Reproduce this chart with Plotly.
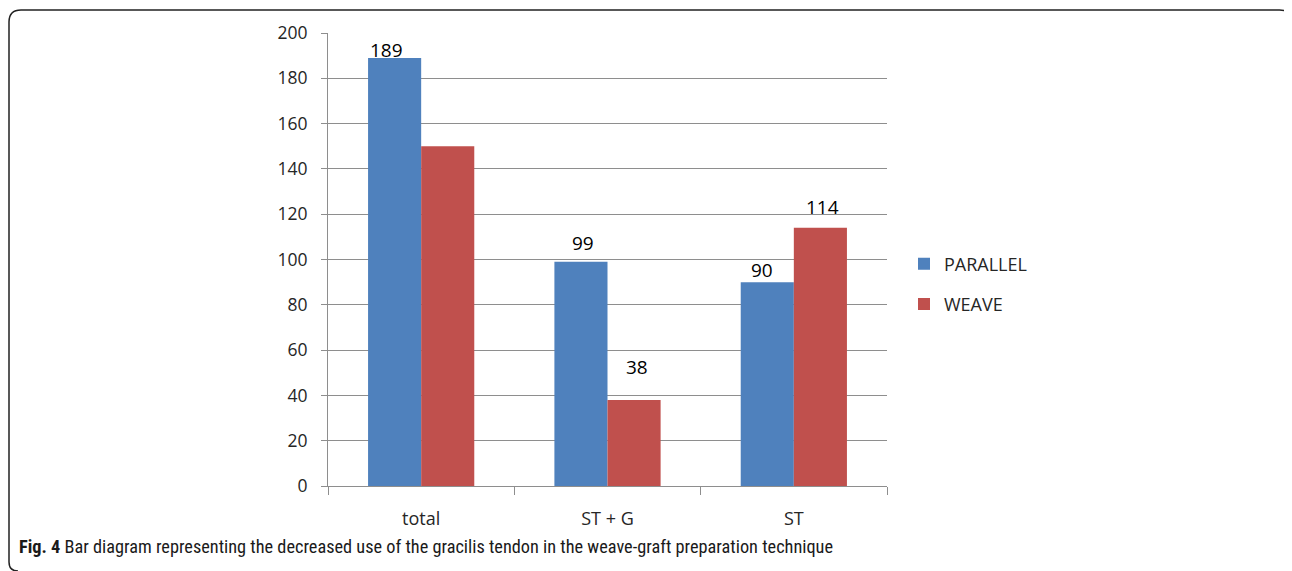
import plotly.graph_objects as go

categories = ["total", "ST + G", "ST"]
parallel = [189, 99, 90]
weave = [150, 38, 114]
parallel_labels = ["189", "99", "90"]
weave_labels = ["", "38", "114"]
y_ticks = [0, 20, 40, 60, 80, 100, 120, 140, 160, 180, 200]
caption_bold = "Fig. 4"
caption_text = " Bar diagram representing the decreased use of the gracilis tendon in the weave-graft preparation technique"

# page body has an 8px margin: work in screen pixels, convert to figure coords
OFF = 8
W, H = 1292 - OFF, 571 - OFF
SL, SR, ST_, SB = 328, 887, 33, 486          # plot area in screen px
L, R, T, B = SL - OFF, SR - OFF, ST_ - OFF, SB - OFF

def px(x):
    return (x - OFF - L) / (R - L)

def py(y):
    return (B - (y - OFF)) / (B - T)

BLUE = "#4F81BD"
RED = "#C0504D"
GRID = "#8E8E8E"
TXT = "#262626"
FONT = "Open Sans"

fig = go.Figure()
fig.add_trace(go.Bar(name="PARALLEL", x=categories, y=parallel, marker_color=BLUE,
                     marker_line_width=0, legendgroup="p"))
fig.add_trace(go.Bar(name="WEAVE", x=categories, y=weave, marker_color=RED,
                     marker_line_width=0, legendgroup="w"))

# value labels: (dx, dy) style offsets from each bar top centre, in px
p_shift = [(-8, 8), (2, 19), (-5, 12)]
w_shift = [(0, 0), (3, 33), (2, 21)]
half = 26.5
for i, c in enumerate(categories):
    if parallel_labels[i]:
        fig.add_annotation(x=c, y=parallel[i], text=parallel_labels[i], showarrow=False,
                           xshift=-half + p_shift[i][0], yshift=p_shift[i][1], yanchor="middle",
                           font=dict(family=FONT, size=19, color="#000"))
    if weave_labels[i]:
        fig.add_annotation(x=c, y=weave[i], text=weave_labels[i], showarrow=False,
                           xshift=half + w_shift[i][0], yshift=w_shift[i][1], yanchor="middle",
                           font=dict(family=FONT, size=19, color="#000"))

# caption
fig.add_annotation(xref="paper", yref="paper", x=px(17), y=py(546), xanchor="left", yanchor="middle",
                   text="<b>" + caption_bold + "</b>" + caption_text, showarrow=False,
                   font=dict(family="Roboto Condensed, Liberation Sans Narrow, Open Sans", size=18.3,
                             color="#1a1a1a"))

# rounded frame
r = 12
x0, x1, y0 = 9, 1291.5, 10
path = (f"M {px(x0)},{py(562)} L {px(x0)},{py(y0 + r)} Q {px(x0)},{py(y0)} {px(x0 + r)},{py(y0)} "
        f"L {px(x1 - r)},{py(y0)} Q {px(x1)},{py(y0)} {px(x1)},{py(y0 + r)} L {px(x1)},{py(575)}")
fig.add_shape(type="path", xref="paper", yref="paper", path=path,
              line=dict(color="#222", width=1.5))
fig.add_shape(type="path", xref="paper", yref="paper",
              path=f"M {px(x0)},{py(562)} Q {px(x0)},{py(571)} {px(x0 + 9)},{py(571)}",
              line=dict(color="#222", width=1.5))

fig.update_layout(
    width=W, height=H,
    margin=dict(l=L, r=W - R, t=T, b=H - B, pad=0),
    paper_bgcolor="white", plot_bgcolor="white",
    barmode="group", bargap=0.43, bargroupgap=0,
    showlegend=True,
    legend=dict(x=px(904), y=py(284), xanchor="left", yanchor="middle",
                font=dict(family=FONT, size=18, color=TXT), tracegroupgap=14,
                bgcolor="rgba(0,0,0,0)"),
    font=dict(family=FONT, size=18, color=TXT),
)
fig.update_xaxes(type="category", tickson="boundaries", ticks="outside", ticklen=8, tickcolor=GRID,
                 showline=True, linecolor=GRID, linewidth=1, showgrid=False,
                 tickfont=dict(family=FONT, size=18, color=TXT), ticklabelstandoff=16)
fig.update_yaxes(range=[0, 200], tickvals=y_ticks, ticks="outside", ticklen=6, tickcolor=GRID,
                 showline=True, linecolor=GRID, linewidth=1, showgrid=True, gridcolor=GRID,
                 gridwidth=1, zeroline=False, tickfont=dict(family=FONT, size=17.5, color=TXT),
                 ticklabelstandoff=10)

fig.write_html("out.html")
